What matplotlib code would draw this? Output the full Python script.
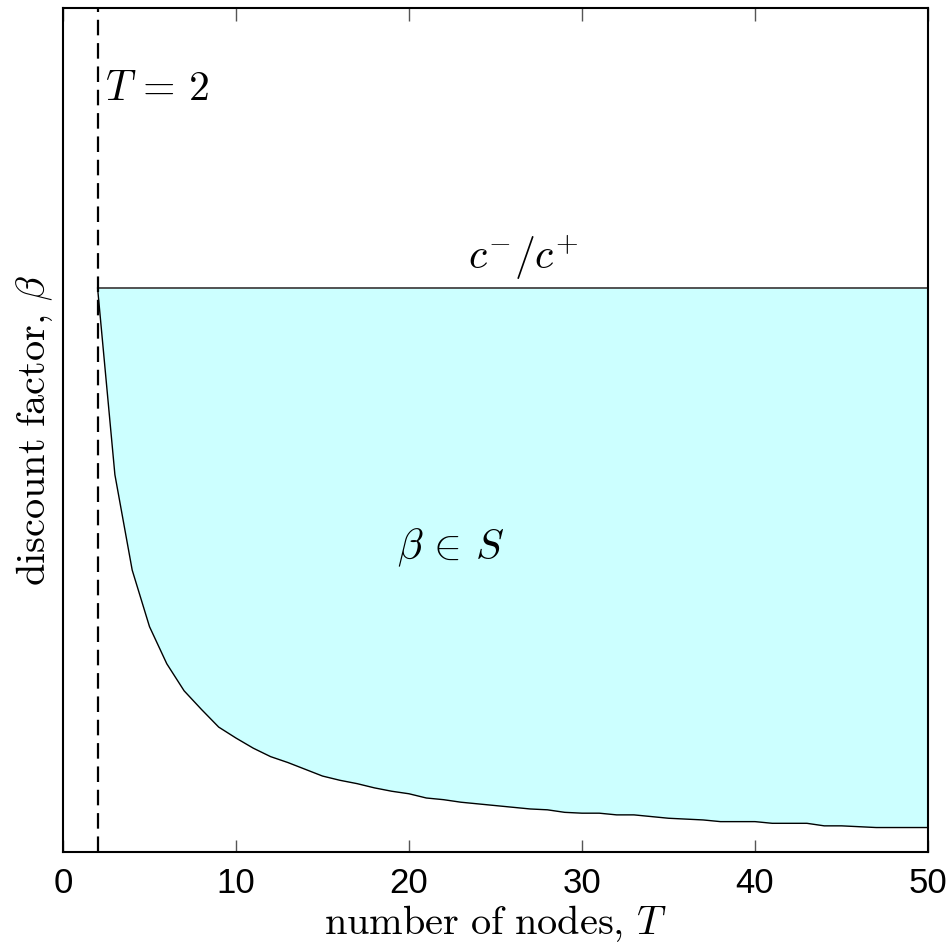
import numpy as np
import matplotlib
matplotlib.use("Agg")
import matplotlib.pyplot as plt

plt.rcParams['mathtext.fontset'] = 'cm'

# ---------------------------- data ----------------------------
T = np.arange(2, 51)
beta_min = [0.668, 0.447, 0.334, 0.267, 0.223, 0.191, 0.169, 0.148, 0.135, 0.123,
            0.113, 0.106, 0.098, 0.090, 0.085, 0.081, 0.076, 0.072, 0.069, 0.064,
            0.062, 0.059, 0.057, 0.055, 0.053, 0.051, 0.050, 0.047, 0.046, 0.046,
            0.044, 0.044, 0.042, 0.040, 0.039, 0.038, 0.036, 0.036, 0.036, 0.034,
            0.034, 0.034, 0.031, 0.031, 0.030, 0.029, 0.029, 0.029, 0.029]
ratio = 0.668   # c^- / c^+
T_min = 2
xticks = [0, 10, 20, 30, 40, 50]

# ---------------------------- plot ----------------------------
fig = plt.figure(figsize=(9.53, 9.49), dpi=100)
ax = fig.add_axes([0.0661, 0.1022, 0.9077, 0.8894])

ax.fill_between(T, beta_min, ratio, color='#ccffff', lw=0)
ax.plot(T, beta_min, color='k', lw=1)
ax.plot([T_min, 50], [ratio, ratio], color='#444444', lw=1.3)
ax.axvline(T_min, color='k', ls=(0, (7, 3.5)), lw=1.6)

ax.text(2.45, 0.905, r'$T\,=\,2$', fontsize=30, ha='left', va='center')
ax.text(26.6, 0.704, r'$c^{-}/c^{+}$', fontsize=30, ha='center', va='center')
ax.text(22.4, 0.36, r'$\beta\,\in\,S$', fontsize=30, ha='center', va='center')

ax.set_xlim(0, 50)
ax.set_ylim(0, 1)
ax.set_xticks(xticks)
ax.set_yticks([])
ax.tick_params(axis='x', direction='in', length=9, width=1, color='#555555',
               top=True, labelsize=25, pad=11)
for lbl in ax.get_xticklabels():
    lbl.set_fontfamily('Liberation Sans')
for s in ax.spines.values():
    s.set_linewidth(1.5)

ax.set_xlabel(r'$\mathrm{number\ of\ nodes,}\,T$', fontsize=29, labelpad=2)
ax.set_ylabel(r'$\mathrm{discount\ factor,}\,\beta$', fontsize=29, labelpad=6)

fig.savefig('out.png', dpi=100)
